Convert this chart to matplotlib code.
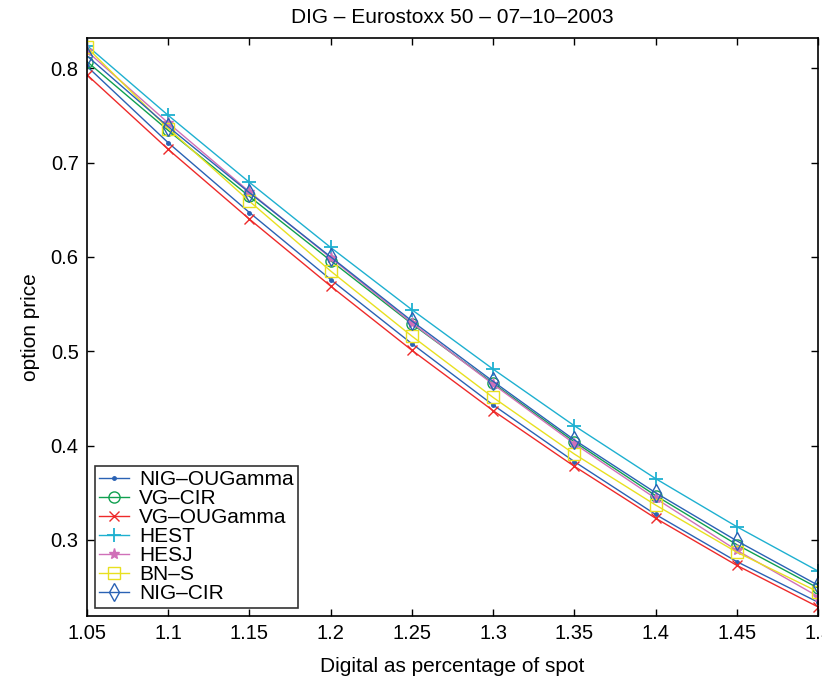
import matplotlib
matplotlib.use('Agg')
import matplotlib.pyplot as plt
import numpy as np

plt.rcParams['font.family'] = ['Liberation Sans', 'DejaVu Sans']

# strike as fraction of spot
x = [1.05, 1.10, 1.15, 1.20, 1.25, 1.30, 1.35, 1.40, 1.45, 1.50]

nig_ougamma = [0.802, 0.721, 0.647, 0.576, 0.508, 0.443, 0.383, 0.327, 0.277, 0.234]
vg_cir      = [0.807, 0.734, 0.664, 0.596, 0.529, 0.466, 0.404, 0.347, 0.295, 0.249]
vg_ougamma  = [0.793, 0.714, 0.640, 0.569, 0.501, 0.437, 0.378, 0.323, 0.273, 0.229]
hest        = [0.824, 0.750, 0.679, 0.610, 0.544, 0.481, 0.421, 0.365, 0.314, 0.267]
hesj        = [0.818, 0.742, 0.669, 0.599, 0.530, 0.465, 0.402, 0.344, 0.289, 0.240]
bns         = [0.822, 0.736, 0.659, 0.585, 0.516, 0.451, 0.391, 0.337, 0.287, 0.245]
nig_cir     = [0.813, 0.738, 0.668, 0.600, 0.532, 0.468, 0.406, 0.350, 0.299, 0.252]

labels = ['NIG–OUGamma', 'VG–CIR', 'VG–OUGamma', 'HEST', 'HESJ', 'BN–S', 'NIG–CIR']

fig = plt.figure(figsize=(8.22, 6.76), dpi=100)
ax = fig.add_axes([0.1058, 0.0888, 0.8894, 0.855])

ax.plot(x, nig_ougamma, '-', color='#2a62b4', marker='.', ms=5, lw=1.0, label=labels[0])
ax.plot(x, vg_cir, '-', color='#10a050', marker='o', ms=8, mfc='none', lw=1.0, label=labels[1])
ax.plot(x, vg_ougamma, '-', color='#ee2a2a', marker='x', ms=7, lw=1.0, label=labels[2])
ax.plot(x, hest, '-', color='#1eb0d0', marker='+', ms=10, mew=1.3, lw=1.0, label=labels[3])
ax.plot(x, hesj, '-', color='#d070b8', marker='*', ms=8, lw=1.0, label=labels[4])
ax.plot(x, bns, '-', color='#e8e020', marker='s', ms=8, mfc='none', lw=1.0, label=labels[5])
ax.plot(x, nig_cir, '-', color='#2a62b4', marker='d', ms=9, mfc='none', lw=1.0, label=labels[6])

ax.set_xlim(1.05, 1.5)
ax.set_ylim(0.2194, 0.832)
ax.set_xticks(x)
ax.set_xticklabels(['%g' % v for v in x])
ax.set_yticks([0.3, 0.4, 0.5, 0.6, 0.7, 0.8])
ax.tick_params(direction='in', top=True, right=True, length=5, width=1.0,
               labelsize=14.5, pad=6)
for s in ax.spines.values():
    s.set_linewidth(1.2)

ax.set_xlabel('Digital as percentage of spot', fontsize=15, labelpad=10)
ax.set_ylabel('option price', fontsize=15, labelpad=8)
ax.set_title('DIG – Eurostoxx 50 – 07–10–2003', fontsize=15, pad=11)

leg = ax.legend(loc='lower left', fontsize=15, frameon=True, fancybox=False,
                handlelength=1.4, handletextpad=0.5, labelspacing=0.0,
                borderpad=0.2, borderaxespad=0.4)
leg.get_frame().set_edgecolor('black')
leg.get_frame().set_linewidth(1.2)

fig.savefig('out.png', dpi=100)
